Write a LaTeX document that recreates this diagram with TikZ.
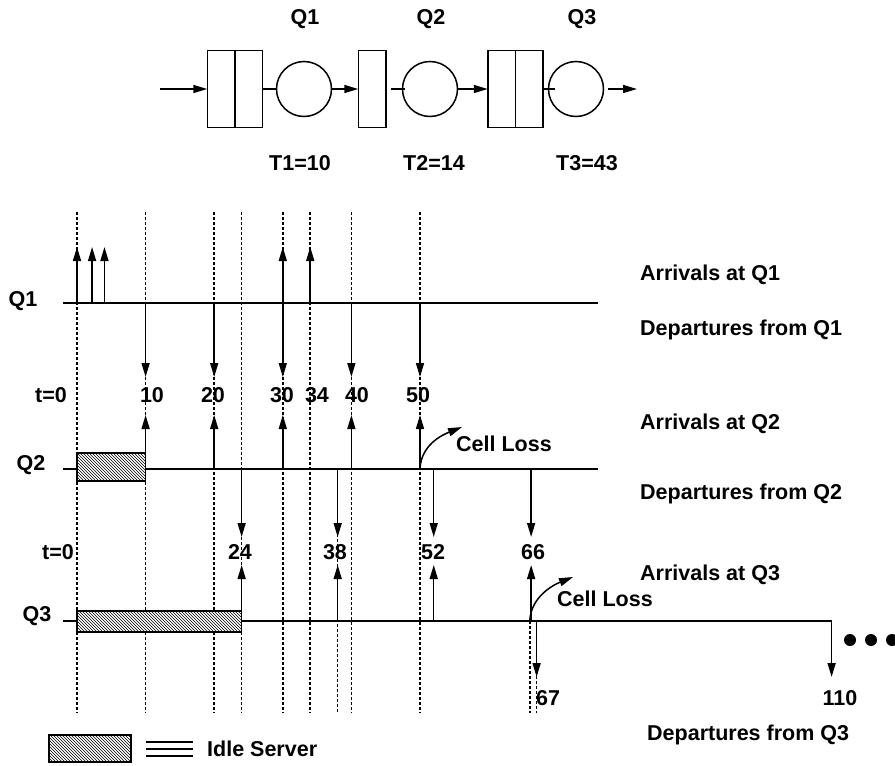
\documentclass[tikz,border=0pt]{standalone}
\usepackage{fontspec}
\setmainfont{Liberation Sans}
\usetikzlibrary{arrows.meta, patterns, positioning}

\tikzset{
  lbl/.style={font=\fontsize{21.5}{26}\selectfont\bfseries, inner sep=0pt, text depth=0pt},
  arr/.style={line width=1.5pt, -{Triangle[length=14pt,width=8pt]}},
  axis/.style={line width=1.5pt},
  grid line/.style={line width=1.5pt, dash pattern=on 2.5pt off 2.5pt},
  cell/.style={draw, line width=1.5pt, minimum width=27.5pt, minimum height=77pt, inner sep=0pt, outer sep=0pt},
  server/.style={draw, circle, line width=1.5pt, minimum size=55pt, inner sep=0pt},
  idle/.style={draw, line width=1.5pt, preaction={fill=white}, pattern=north west lines}
}

\begin{document}
\begin{tikzpicture}[x=1pt, y=-1pt]
\useasboundingbox (0,0) rectangle (895,766);

% Queues in tandem
\node[cell] (q1a) at (221,89) {};
\node[cell, right=0pt of q1a] (q1b) {};
\node[server] (s1) at (304,89) {};
\node[cell] (q2a) at (372,89) {};
\node[server] (s2) at (430,89) {};
\node[cell] (q3a) at (501.5,89) {};
\node[cell, right=0pt of q3a] (q3b) {};
\node[server] (s3) at (576,89) {};

\coordinate (in) at (160,89);
\coordinate (out) at (637,89);
\coordinate (q2feed) at (391,89);
\coordinate (s2feed) at (405,89);
\coordinate (s3feed) at (555,89);
\coordinate (s3exit) at (608,89);

\draw[arr] (in) -- (q1a);
\draw[axis] (q1b) -- (s1);
\draw[arr] (s1) -- (q2a);
\draw[axis] (q2feed) -- (s2feed);
\draw[arr] (s2) -- (q3a);
\draw[axis] (q3b.east) -- (s3feed);
\draw[arr] (s3exit) -- (out);

\node[lbl] (n1) at (305,17) {Q1};
\node[lbl] (n2) at (431,17) {Q2};
\node[lbl] (n3) at (582,17) {Q3};
\node[lbl] (t1) at (300,163) {T1=10};
\node[lbl] (t2) at (434,163) {T2=14};
\node[lbl] (t3) at (587,163) {T3=43};

% Time lines, t=0 at x=77
\begin{scope}[xshift=77pt, x=6.86pt]
\foreach \t in {0,10,20,24,30,34,40,50}
  \draw[grid line] (\t,212) -- (\t,713);
\draw[grid line] (38,469) -- (38,713);
\draw[grid line] (66,621) -- (66,713);
\draw[grid line] (67,621) -- (67,713);

\coordinate (q1l) at (-2,303);
\coordinate (q1r) at (76,303);
\coordinate (q2l) at (-2,469);
\coordinate (q2r) at (76,469);
\coordinate (q3l) at (-2,621);
\coordinate (q3c) at (110,621);
\coordinate (q3d) at (110,677);
\draw[axis] (q1l) -- (q1r);
\draw[axis] (q2l) -- (q2r);
\draw[arr] (q3l) -- (q3c) -- (q3d);

\draw[idle] (0,453) rectangle (10,481);
\draw[idle] (0,611) rectangle (24,632);

% Q1
\foreach \t [count=\i] in {0,2.2,4,30,34} {
  \coordinate (a1b\i) at (\t,303);
  \coordinate (a1t\i) at (\t,247);
  \draw[arr] (a1b\i) -- (a1t\i);
}
\foreach \t in {10,20,30,40,50} {
  \coordinate (d1b\t) at (\t,303);
  \coordinate (d1t\t) at (\t,377);
  \draw[arr] (d1b\t) -- (d1t\t);
}
% Q2
\foreach \t in {10,20,30,40,50} {
  \coordinate (a2b\t) at (\t,469);
  \coordinate (a2t\t) at (\t,415);
  \draw[arr] (a2b\t) -- (a2t\t);
}
\foreach \t [count=\i] in {24,38,52,66.2} {
  \coordinate (d2b\i) at (\t,469);
  \coordinate (d2t\i) at (\t,537);
  \draw[arr] (d2b\i) -- (d2t\i);
}
% Q3
\foreach \t [count=\i] in {24,38,52,66.2} {
  \coordinate (a3b\i) at (\t,621);
  \coordinate (a3t\i) at (\t,565);
  \draw[arr] (a3b\i) -- (a3t\i);
}
\coordinate (d3b) at (67,621);
\coordinate (d3t) at (67,677);
\draw[arr] (d3b) -- (d3t);

\coordinate (loss1) at (50,469);
\coordinate (loss2) at (66,621);
\end{scope}

% Cell loss
\coordinate (loss1end) at (462,427);
\coordinate (loss2end) at (573,577);
\draw[arr] (loss1) .. controls +(1,-24) and +(-20,8) .. (loss1end);
\draw[arr] (loss2) .. controls +(1,-24) and +(-20,8) .. (loss2end);
\node[lbl] (cl1) at (504,444) {Cell Loss};
\node[lbl] (cl2) at (605,599) {Cell Loss};

% Labels
\node[lbl] (lq1) at (23,299) {Q1};
\node[lbl] (lq2) at (31,463) {Q2};
\node[lbl] (lq3) at (37,614) {Q3};
\node[lbl] (z1) at (51,395) {t=0};
\node[lbl] (z2) at (58,552) {t=0};

\node[lbl] (v10) at (152,395) {10};
\node[lbl] (v20) at (213,395) {20};
\node[lbl] (v30) at (282,395) {30};
\node[lbl] (v34) at (317,395) {34};
\node[lbl] (v40) at (357,395) {40};
\node[lbl] (v50) at (418,395) {50};
\node[lbl] (v24) at (240,552) {24};
\node[lbl] (v38) at (335,552) {38};
\node[lbl] (v52) at (433,552) {52};
\node[lbl] (v66) at (533,552) {66};
\node[lbl] (v67) at (548,698) {67};
\node[lbl] (v110) at (840,698) {110};

\node[lbl, anchor=west] (ra1) at (640,273) {Arrivals at Q1};
\node[lbl, anchor=west] (rd1) at (640,328) {Departures from Q1};
\node[lbl, anchor=west] (ra2) at (640,422) {Arrivals at Q2};
\node[lbl, anchor=west] (rd2) at (640,492) {Departures from Q2};
\node[lbl, anchor=west] (ra3) at (640,573) {Arrivals at Q3};
\node[lbl, anchor=west] (rd3) at (647,733) {Departures from Q3};

% More to come
\foreach \d in {850,871,892}
  \fill (\d,640) circle (6pt);

% Legend
\draw[idle] (49,735) rectangle (131,762);
\foreach \y in {742,749,756}
  \draw[line width=1.2pt] (146,\y) -- (193,\y);
\node[lbl, anchor=west] (idletxt) at (207,749) {Idle Server};
\end{tikzpicture}
\end{document}
